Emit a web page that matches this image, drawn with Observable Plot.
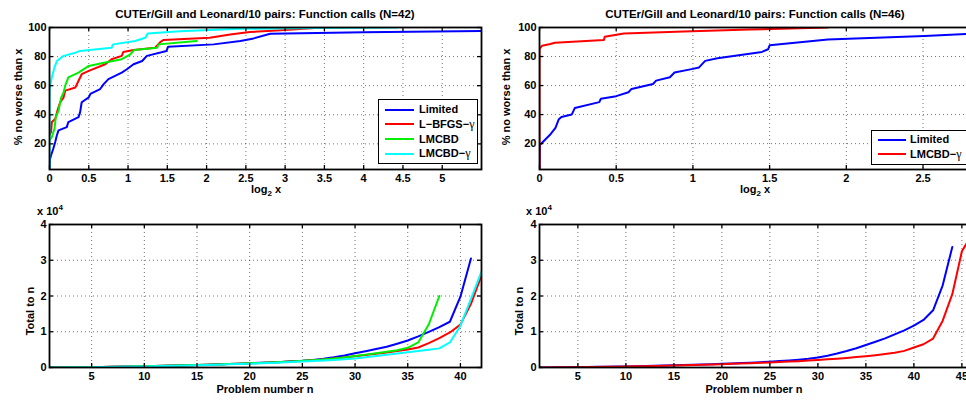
<!DOCTYPE html>
<html><head><meta charset="utf-8">
<script src="https://cdn.jsdelivr.net/npm/d3@7"></script>
<script src="https://cdn.jsdelivr.net/npm/@observablehq/plot@0.6"></script>
<style>
html,body{margin:0;padding:0;background:#fff;overflow:hidden;}
#root{position:relative;width:966px;height:400px;overflow:hidden;font-family:"Liberation Sans",Arial,Helvetica,sans-serif;font-weight:bold;color:#000;background:#fff;}
#root svg{position:absolute;}
.t{position:absolute;white-space:nowrap;font-weight:bold;font-size:11px;line-height:12px;}
.title{font-size:11.5px;}
.ylab{transform:translate(-50%,-50%) rotate(-90deg);}
.cx{transform:translate(-50%,-50%);}
.leg{position:absolute;background:#fff;border:1.6px solid #000;box-sizing:border-box;}
.row{position:absolute;height:12px;font-size:11px;line-height:12px;white-space:nowrap;}
.sw{position:absolute;height:2px;}
.g{font-family:"Liberation Serif","DejaVu Serif",serif;font-weight:normal;font-size:12px;}
</style>
</head><body><div id="root"></div>
<script>
// ---------- data ----------
const seriesNames = ["Limited", "L\u2212BFGS\u2212\u03b3", "LMCBD", "LMCBD\u2212\u03b3"];
const seriesColors = ["#0000ff", "#ff0000", "#00ee00", "#00ffff"];
const rightNames = ["Limited", "LMCBD\u2212\u03b3"];
const rightColors = ["#0000ff", "#ff0000"];

// Top-left: performance profile (log2 x, % no worse than x), N=42
const tlLimited = [[0,2.4],[0.005,9],[0.02,12.2],[0.05,17],[0.073,21.3],[0.094,25.9],[0.115,29.3],[0.22,31.5],[0.24,35],[0.37,38.4],[0.39,41.8],[0.41,48.6],[0.5,52],[0.52,54.3],[0.645,57.7],[0.69,61.1],[0.75,64.5],[0.92,69],[0.985,71.3],[1.07,74.7],[1.18,77],[1.24,80.5],[1.49,83.9],[1.51,86.8],[2.09,88.4],[2.43,90.7],[2.6,92.5],[2.81,95.7],[4.0,96.8],[5.5,97.6]];
const tlLbfgsG = [[0,26],[0.02,28.1],[0.03,35],[0.073,37.2],[0.107,44],[0.136,48.6],[0.18,52],[0.2,56.6],[0.33,58.8],[0.37,63.4],[0.41,67.9],[0.5,70.2],[0.71,74.7],[0.79,78.2],[0.92,80.5],[0.94,83.2],[1.07,84.6],[1.345,86.1],[1.41,90],[1.45,91.4],[2.04,93],[2.3,95.2],[2.55,96.9],[3.0,98.2],[3.47,100]];
const tlLmcbd = [[0,22.5],[0.03,24.7],[0.064,30.4],[0.08,38.4],[0.115,42.9],[0.15,52],[0.18,55.4],[0.2,60],[0.24,65.7],[0.37,69],[0.5,73.6],[0.71,75.9],[0.92,78.2],[1.03,81.6],[1.08,84.6],[1.37,86.1],[1.39,88.4],[1.875,90.7]];
const tlLmcbdG = [[0,2.4],[0,57.7],[0.03,66],[0.06,72],[0.094,77],[0.18,80.5],[0.33,82.7],[0.39,83.9],[0.79,86.1],[0.81,88.4],[1.09,90.7],[1.22,93],[1.25,95.9],[1.66,97.5],[2.43,99.1],[3.47,99.6],[4.42,100]];

// Top-right: performance profile, N=46
const trLimited = [[0,2.17],[0.002,19],[0.067,25.9],[0.104,30.9],[0.126,36.8],[0.143,38.4],[0.21,40],[0.23,44.5],[0.39,48.6],[0.40,50.9],[0.50,52.7],[0.58,55.4],[0.60,57.7],[0.74,61.1],[0.76,63.4],[0.85,65.7],[0.88,69],[1.0,71.5],[1.04,72.5],[1.08,77],[1.16,78.8],[1.45,83.2],[1.49,85],[1.50,87.7],[1.88,91.8],[2.51,94.1],[2.82,95.7]];
const trLmcbdG = [[0,2.17],[0,85.2],[0.017,87.5],[0.07,88.6],[0.1,89.5],[0.42,91.4],[0.425,93.6],[0.55,95.9],[0.94,97.3],[1.37,98.6],[1.88,100]];

// Bottom-left: cumulative function calls to problem n (N=42)
const blLimited = [15,35,60,90,125,160,200,245,295,350,410,475,545,620,700,785,875,970,1070,1180,1300,1430,1570,1720,1880,2120,2450,2850,3350,4000,4550,5150,5800,6650,7550,8700,9950,11300,12800,19800,30500];
const blLbfgsG = [12,30,55,85,120,155,195,240,290,345,405,470,540,615,695,780,870,965,1065,1170,1285,1410,1545,1690,1850,2030,2250,2500,2800,3150,3500,3850,4200,4600,5050,5600,6800,8200,9800,12000,17800,25700];
const blLmcbd = [14,32,58,88,122,158,198,243,293,348,408,473,543,618,698,783,873,968,1068,1175,1290,1415,1550,1700,1860,2040,2250,2500,2820,3200,3600,4000,4400,4850,5500,7000,12100,20000];
const blLmcbdG = [10,25,45,70,100,130,165,205,250,300,355,415,480,550,625,705,790,880,975,1075,1180,1290,1405,1525,1650,1790,1950,2130,2330,2550,2850,3200,3550,3900,4250,4600,4950,5350,7000,11700,19200,26800];

// Bottom-right: cumulative function calls (N=46)
const brLimited = [12,30,52,78,108,140,176,216,260,308,360,416,476,540,610,684,762,846,936,1030,1130,1240,1360,1490,1630,1790,1970,2180,2420,2800,3300,3900,4600,5400,6300,7200,8150,9250,10400,11700,13300,16000,23000,33700];
const brLmcbdG = [10,25,44,67,94,124,157,193,233,277,325,377,433,493,557,625,697,773,853,937,1025,1117,1213,1313,1420,1530,1650,1780,1930,2100,2280,2470,2680,2920,3180,3450,3750,4100,4650,5600,6500,8100,13100,20500,32500,37000];

// ticks
const yTicksTop = [20,40,60,80,100];
const xTicksTL = [0,0.5,1,1.5,2,2.5,3,3.5,4,4.5,5];
const xTicksTR = [0,0.5,1,1.5,2,2.5];
const yTicksBot = [0,10000,20000,30000,40000];
const xTicksBL = [5,10,15,20,25,30,35,40];
const xTicksBR = [5,10,15,20,25,30,35,40,45];

// ---------- drawing ----------
const root = document.getElementById("root");

function panel({left, top, width, height, mL, mR, mT, mB, xDomain, yDomain, xTicks, yTicks, yFmt, series}) {
  const fh = height - mT - mB, fw = width - mL - mR;
  const grid = {stroke: "#000", strokeOpacity: 0.55, strokeWidth: 1, strokeDasharray: "1,3"};
  const marks = [
    Plot.gridX(xTicks, grid),
    Plot.gridY(yTicks, grid),
    ...series.map(s => Plot.line(s.data, {x: s.x, y: s.y, stroke: s.color, strokeWidth: 2, clip: true})),
    Plot.tickX(xTicks, {x: d => d, insetTop: fh - 4, stroke: "#000", strokeWidth: 1.3}),
    Plot.tickX(xTicks, {x: d => d, insetBottom: fh - 4, stroke: "#000", strokeWidth: 1.3}),
    Plot.tickY(yTicks, {y: d => d, insetRight: fw - 4, stroke: "#000", strokeWidth: 1.3}),
    Plot.tickY(yTicks, {y: d => d, insetLeft: fw - 4, stroke: "#000", strokeWidth: 1.3}),
    Plot.frame({stroke: "#000", strokeWidth: 1.8}),
    Plot.axisX({ticks: xTicks, tickSize: 0, tickPadding: 5, tickFormat: d => String(d), label: null}),
    Plot.axisY({ticks: yTicks, tickSize: 0, tickPadding: 3, tickFormat: yFmt, label: null})
  ];
  const svg = Plot.plot({
    width, height, marginLeft: mL, marginRight: mR, marginTop: mT, marginBottom: mB,
    x: {domain: xDomain}, y: {domain: yDomain},
    style: {fontFamily: "'Liberation Sans', Arial, sans-serif", fontSize: "11px", fontWeight: "bold", background: "transparent", overflow: "visible", maxWidth: "none"},
    marks
  });
  svg.style.left = left + "px";
  svg.style.top = top + "px";
  root.appendChild(svg);
}

function text(html, x, y, cls) {
  const d = document.createElement("div");
  d.className = "t " + (cls || "cx");
  d.innerHTML = html;
  d.style.left = x + "px";
  d.style.top = y + "px";
  root.appendChild(d);
  return d;
}

function legend(names, colors, left, top, width, height, rowY, lineX0, lineX1, textX) {
  const box = document.createElement("div");
  box.className = "leg";
  Object.assign(box.style, {left: left + "px", top: top + "px", width: width + "px", height: height + "px"});
  root.appendChild(box);
  names.forEach((name, i) => {
    const sw = document.createElement("div");
    sw.className = "sw";
    Object.assign(sw.style, {left: lineX0 + "px", width: (lineX1 - lineX0) + "px", top: (rowY[i] - 1) + "px", background: colors[i]});
    root.appendChild(sw);
    const r = document.createElement("div");
    r.className = "row";
    r.innerHTML = name.replace("\u03b3", '<span class="g">\u03b3</span>');
    Object.assign(r.style, {left: textX + "px", top: (rowY[i] - 6.5) + "px"});
    root.appendChild(r);
  });
}

const px = {x: d => d[0], y: d => d[1]};
const cum = {x: (d, i) => i + 1, y: d => d};
const yFmtTop = d => String(d);
const yFmtBot = d => String(d / 10000);

// top-left
panel({left: 0, top: 0, width: 483, height: 200, mL: 49, mR: 2, mT: 27, mB: 31,
  xDomain: [0, 5.5], yDomain: [100 / 42, 100], xTicks: xTicksTL, yTicks: yTicksTop, yFmt: yFmtTop,
  series: [tlLimited, tlLbfgsG, tlLmcbd, tlLmcbdG].map((data, k) => ({data, ...px, color: seriesColors[k]}))});
// top-right
panel({left: 483, top: 0, width: 490, height: 200, mL: 56, mR: 2, mT: 27, mB: 31,
  xDomain: [0, 2.816], yDomain: [100 / 46, 100], xTicks: xTicksTR, yTicks: yTicksTop, yFmt: yFmtTop,
  series: [trLimited, trLmcbdG].map((data, k) => ({data, ...px, color: rightColors[k]}))});
// bottom-left
panel({left: 0, top: 200, width: 483, height: 200, mL: 49, mR: 2, mT: 24, mB: 33,
  xDomain: [1, 42], yDomain: [0, 40000], xTicks: xTicksBL, yTicks: yTicksBot, yFmt: yFmtBot,
  series: [blLimited, blLbfgsG, blLmcbd, blLmcbdG].map((data, k) => ({data, ...cum, color: seriesColors[k]}))});
// bottom-right
panel({left: 483, top: 200, width: 490, height: 200, mL: 56, mR: 2, mT: 24, mB: 33,
  xDomain: [1, 46], yDomain: [0, 40000], xTicks: xTicksBR, yTicks: yTicksBot, yFmt: yFmtBot,
  series: [brLimited, brLmcbdG].map((data, k) => ({data, ...cum, color: rightColors[k]}))});

// texts
text("CUTEr/Gill and Leonard/10 pairs: Function calls (N=42)", 265, 14, "cx title");
text("CUTEr/Gill and Leonard/10 pairs: Function calls (N=46)", 755, 14, "cx title");
text("log<sub style='font-size:8px;vertical-align:-3px'>2</sub> x", 266, 191);
text("log<sub style='font-size:8px;vertical-align:-3px'>2</sub> x", 755, 191);
text("% no worse than x", 18, 97, "ylab");
text("% no worse than x", 506, 97, "ylab");
text("Problem number n", 265, 389);
text("Problem number n", 754, 389);
text("Total to n", 30, 311, "ylab");
text("Total to n", 519, 311, "ylab");
text("x 10<sup style='font-size:8px;vertical-align:5px'>4</sup>", 50, 209, "");
text("x 10<sup style='font-size:8px;vertical-align:5px'>4</sup>", 539, 209, "");

// legends
legend(seriesNames, seriesColors, 378, 99, 100, 65, [109.5, 124, 139, 153.5], 385, 414, 419);
legend(rightNames, rightColors, 871, 130, 110, 35, [139.5, 154.3], 878, 906, 910);
</script>
</body></html>
